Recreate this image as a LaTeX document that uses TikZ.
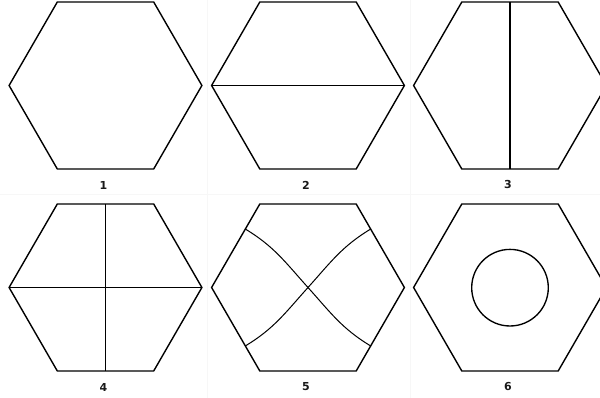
\documentclass[tikz,border=0pt]{standalone}
\usepackage{fontspec}
\setmainfont{DejaVu Sans}
\usetikzlibrary{calc}
\tikzset{
  hexline/.style={line width=1.4pt, line join=miter, black},
  innerline/.style={line width=1.25pt, black},
  curveline/.style={line width=1pt, black},
  gridline/.style={line width=0.6pt, black!3},
  numlabel/.style={font=\fontsize{11}{12}\selectfont\bfseries, inner sep=0pt, text=black!90}
}
\newcommand\hexR{96.4}
\newcommand\hexagonat[3]{%
  \coordinate (#1) at (#2,#3);
  \coordinate (#1-r)  at ($(#1)+(0:\hexR)$);
  \coordinate (#1-tr) at ($(#1)+(60:\hexR)$);
  \coordinate (#1-tl) at ($(#1)+(120:\hexR)$);
  \coordinate (#1-l)  at ($(#1)+(180:\hexR)$);
  \coordinate (#1-bl) at ($(#1)+(240:\hexR)$);
  \coordinate (#1-br) at ($(#1)+(300:\hexR)$);
  \draw[hexline] (#1-r)--(#1-tr)--(#1-tl)--(#1-l)--(#1-bl)--(#1-br)--cycle;}
\begin{document}
\begin{tikzpicture}[x=1pt,y=1pt]
\useasboundingbox (0,0) rectangle (600,398);
% faint cell borders
\coordinate (g1t) at (207.5,398); \coordinate (g1b) at (207.5,0);
\coordinate (g2t) at (410.5,398); \coordinate (g2b) at (410.5,0);
\coordinate (gl) at (0,204); \coordinate (gr) at (600,204);
\draw[gridline] (g1t) -- (g1b);
\draw[gridline] (g2t) -- (g2b);
\draw[gridline] (gl) -- (gr);
% hexagons
\hexagonat{h1}{105.5}{312.5}
\hexagonat{h2}{308}{312.5}
\hexagonat{h3}{510}{312.5}
\hexagonat{h4}{105.5}{110.5}
\hexagonat{h5}{308}{110.5}
\hexagonat{h6}{510}{110.5}
% 2: horizontal
\draw[innerline] (h2-l) -- (h2-r);
% 3: vertical
\draw[innerline] ($(h3-tl)!.5!(h3-tr)$) -- ($(h3-bl)!.5!(h3-br)$);
% 4: cross
\draw[innerline] (h4-l) -- (h4-r);
\draw[innerline] ($(h4-tl)!.5!(h4-tr)$) -- ($(h4-bl)!.5!(h4-br)$);
% 5: curved X
\coordinate (p5ul) at ($(h5-l)!0.7!(h5-tl)$);
\coordinate (p5ur) at ($(h5-r)!0.7!(h5-tr)$);
\coordinate (p5ll) at ($(h5-l)!0.7!(h5-bl)$);
\coordinate (p5lr) at ($(h5-r)!0.7!(h5-br)$);
\draw[curveline] (p5ul) to[out=-31,in=132] (h5) to[out=-48,in=149] (p5lr);
\draw[curveline] (p5ur) to[out=211,in=48] (h5) to[out=228,in=31] (p5ll);
% 6: circle
\node[draw, circle, line width=1.35pt, minimum size=76.6pt, inner sep=0pt] (c6) at ($(h6)+(0,-0.2)$) {};
% labels
\node[numlabel] (l1) at (103.5,213) {1};
\node[numlabel] (l2) at (306,213) {2};
\node[numlabel] (l3) at (508,213) {3};
\node[numlabel] (l4) at (103.5,11) {4};
\node[numlabel] (l5) at (306,11) {5};
\node[numlabel] (l6) at (508,11) {6};
\end{tikzpicture}
\end{document}
